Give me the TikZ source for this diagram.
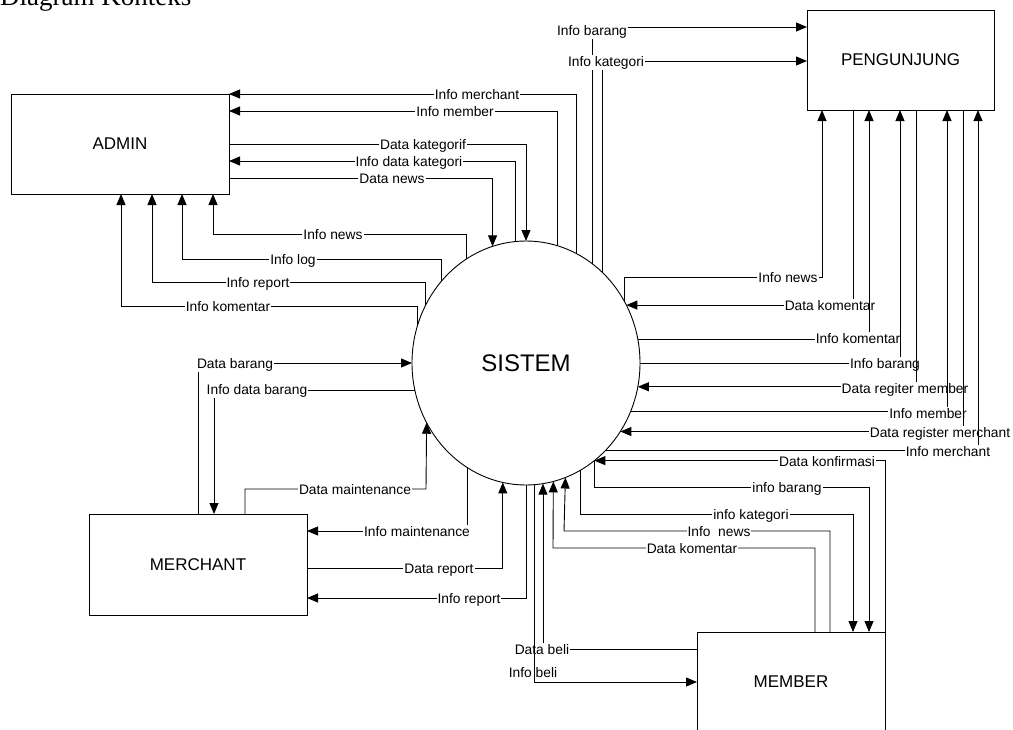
\documentclass[tikz,border=0pt]{standalone}
\usepackage{fontspec}
\setmainfont{Liberation Sans}
\newfontfamily\ttlfont{Liberation Serif}
\usetikzlibrary{arrows.meta,shapes.geometric}
\begin{document}
\begin{tikzpicture}[x=1pt,y=-1pt,
  box/.style={draw, line width=0.9pt, inner sep=0pt, outer sep=0pt, font=\fontsize{17}{20}\selectfont},
  flow/.style={line width=0.9pt, -{Triangle[length=11pt,width=9pt]}},
  plain/.style={line width=0.9pt},
  lbl/.style={anchor=base, yshift=-5pt, fill=white, inner sep=1pt, font=\fontsize{13.8}{16}\selectfont},
  lbln/.style={lbl, fill=none},
]
\clip (0,0) rectangle (1013,729);
\fill[white] (0,0) rectangle (1013,729);

\node[anchor=base west, inner sep=0pt, font=\ttlfont\fontsize{27}{30}\selectfont] (title) at (0,5.5) {Diagram Konteks};

\node[box, minimum width=218, minimum height=100] (admin) at (120,144) {ADMIN};
\node[box, minimum width=187, minimum height=100] (peng) at (900.5,60) {PENGUNJUNG};
\node[box, minimum width=218, minimum height=101] (merch) at (198,564.5) {MERCHANT};
\node[box, minimum width=188, minimum height=100] (mem) at (791,682) {MEMBER};
\node[ellipse, draw, line width=0.9pt, minimum width=228, minimum height=244, inner sep=0pt, outer sep=0pt, font=\fontsize{24}{28}\selectfont] (sis) at (526,363) {SISTEM};

% ADMIN right side
\draw[flow] (sis.65.47) |- (admin.east |- 0,94);
\node[lbl] (l1) at (477,94) {Info merchant};
\draw[flow] (sis.75.7) |- (admin.east |- 0,111);
\node[lbl] (l2) at (455,111) {Info member};
\draw[flow] (admin.east |- 0,144) -| (sis.90);
\node[lbl] (l3) at (423,144) {Data kategorif};
\draw[flow] (sis.95.65) |- (admin.east |- 0,161);
\node[lbl] (l4) at (409,161) {Info data kategori};
\draw[flow] (admin.east |- 0,178) -| (sis.106.3);
\node[lbl] (l5) at (392,178) {Data news};

% ADMIN bottom
\draw[flow] (sis.120.06) |- (213,234) -- (admin.south -| 213,0);
\node[lbl] (l6) at (333,234) {Info news};
\draw[flow] (sis.136.27) |- (182,259) -- (admin.south -| 182,0);
\node[lbl] (l7) at (293,259) {Info log};
\draw[flow] (sis.150.74) |- (152,282) -- (admin.south -| 152,0);
\node[lbl] (l8) at (258,282) {Info report};
\draw[flow] (sis.161.87) |- (121,306) -- (admin.south -| 121,0);
\node[lbl] (l9) at (228,306) {Info komentar};

% PENGUNJUNG west
\draw[flow] (sis.56.44) |- (peng.west |- 0,27);
\node[lbl] (l10) at (592,30) {Info barang};
\draw[flow] (sis.50.1) |- (peng.west |- 0,61);
\node[lbl] (l11) at (606,61) {Info kategori};

% PENGUNJUNG south
\draw[flow] (sis.32.45) |- (822,277) -- (peng.south -| 822,0);
\node[lbl] (l12) at (788,277) {Info news};
\draw[flow] (peng.south -| 853,0) |- (sis.30.04);
\node[lbl] (l13) at (830,305) {Data komentar};
\draw[flow] (sis.12.63) -| (peng.south -| 869,0);
\node[lbl] (l14) at (858,338) {Info komentar};
\draw[flow] (sis.0) -| (peng.south -| 900,0);
\node[lbl] (l15) at (885,363) {Info barang};
\draw[flow] (peng.south -| 916,0) |- (sis.-12.63);
\node[lbl] (l16) at (905,388) {Data regiter member};
\draw[flow] (sis.-25.68) -| (peng.south -| 947,0);
\node[lbl] (l17) at (928,413) {Info member};
\draw[flow] (peng.south -| 963,0) |- (sis.-36.28);
\node[lbl] (l18) at (940,432) {Data register merchant};
\draw[flow] (sis.-48.09) -| (peng.south -| 978,0);
\node[lbl] (l19) at (948,451) {Info merchant};

% MEMBER
\draw[flow] (mem.north east) |- (sis.-55.28);
\node[lbl] (l20) at (827,461) {Data konfirmasi};
\draw[flow] (sis.-55.22) |- (869,487) -- (mem.north -| 869,0);
\node[lbl] (l21) at (787,487) {info barang};
\draw[flow] (sis.-63.86) |- (853,514) -- (mem.north -| 853,0);
\node[lbl] (l22) at (751,514) {info kategori};
\draw[flow] (mem.north -| 830,0) |- (564,531) -- (sis.-71.71);
\node[lbl] (l23) at (719,531) {Info\ \ news};
\draw[flow] (mem.north -| 815,0) |- (553,548) -- (sis.-77.16);
\node[lbl] (l24) at (692,548) {Data komentar};
\draw[flow] (mem.west |- 0,649) -| (sis.-82.93);
\node[lbl] (l25) at (542,649) {Data beli};
\draw[flow] (sis.-86.71) |- (mem.west |- 0,682);
\node[lbln] (l26) at (533,672) {Info beli};

% MERCHANT
\draw[flow] (merch.north -| 198,0) |- (sis.180);
\node[lbl] (l27) at (235,363) {Data barang};
\draw[flow] (sis.-166.86) -| (merch.north -| 214,0);
\node[lbl] (l28) at (257,389) {Info data barang};
\draw[flow] (merch.north -| 245,0) |- (426,489) -- (sis.-149.63);
\node[lbl] (l29) at (355,489) {Data maintenance};
\draw[flow] (sis.-119.47) |- (merch.east |- 0,531);
\node[lbl] (l30) at (417,531) {Info maintenance};
\draw[flow] (merch.east |- 0,568) -| (sis.-101.37);
\node[lbl] (l31) at (439,568) {Data report};
\draw[flow] (sis.-90) |- (merch.east |- 0,598);
\node[lbl] (l32) at (469,598) {Info report};
\end{tikzpicture}
\end{document}
